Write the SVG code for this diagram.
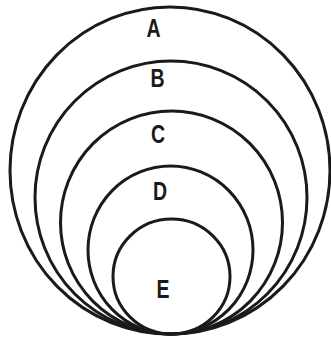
<svg xmlns="http://www.w3.org/2000/svg" width="331" height="341" viewBox="0 0 331 341">
<style>
.c{fill:none;stroke:#1a1a1a;stroke-width:3}
.t{font-family:"Liberation Sans",Arial,sans-serif;font-size:26px;font-weight:bold;fill:#1a1a1a;text-anchor:middle}
</style>
<rect width="331" height="341" fill="#fff"/>
<g id="A"><ellipse class="c" cx="170" cy="170.5" rx="160" ry="163.5"/><text class="t" transform="translate(153.5,37) scale(0.75,1)">A</text></g>
<g id="B"><ellipse class="c" cx="171" cy="197.5" rx="136" ry="136.5"/><text class="t" transform="translate(157.5,87) scale(0.75,1)">B</text></g>
<g id="C"><ellipse class="c" cx="171.5" cy="222.5" rx="111" ry="111.5"/><text class="t" transform="translate(158,143) scale(0.75,1)">C</text></g>
<g id="D"><ellipse class="c" cx="170.5" cy="250" rx="82.5" ry="84"/><text class="t" transform="translate(160,200) scale(0.75,1)">D</text></g>
<g id="E"><ellipse class="c" cx="171.5" cy="276.5" rx="58.5" ry="57.5"/><text class="t" transform="translate(163,298) scale(0.75,1)">E</text></g>
<g id="connectors"/>
</svg>
